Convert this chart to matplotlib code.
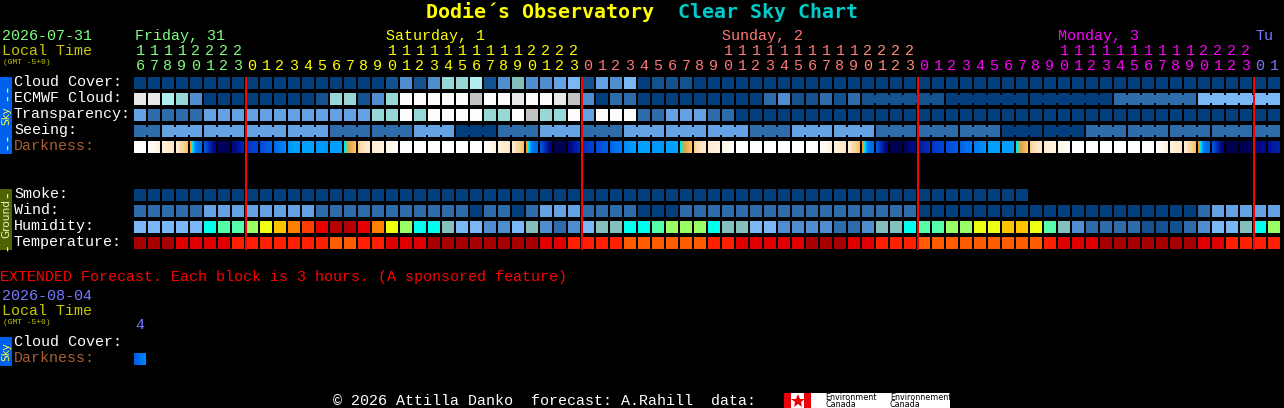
import numpy as np
import matplotlib
matplotlib.use("Agg")
import matplotlib.pyplot as plt
from matplotlib.colors import to_rgb

W, H = 1284, 408
MONO = "Liberation Mono"

# ---------- data ----------
site_title = "Dodie\u00b4s Observatory  "
chart_title = "Clear Sky Chart"
units_digits = list("67890123" + "012345678901234567890123" * 3 + "01")
tens_digits = list("11112222" + "          11111111112222" * 3 + "  ")
day_labels = ["Friday, 31", "Saturday, 1", "Sunday, 2", "Monday, 3", "Tu"]
row_labels_sky = ["Cloud Cover:", "ECMWF Cloud:", "Transparency:", "Seeing:", "Darkness:"]
row_labels_ground = ["Smoke:", "Wind:", "Humidity:", "Temperature:"]
midnight_cols = [8, 32, 56, 80]

cloud = [0,0,0,0,0,0,0,0,0,0,0,0,0,0,0,0,0,0,1,3,1,3,7,7,8,1,3,6,3,3,4,5,1,4,3,5,
         0,1,1,1,0,0,0,0,0,0,0,0,0,0,0,0,0,0,0,0,0,0,0,0,0,0,0,0,0,0,0,0,0,0,0,0,
         0,0,0,0,0,0,0,0,0,0]
ecmwf = [10,10,8,7,3,0,0,0,0,0,0,0,0,1,7,7,1,3,7,11,11,11,11,11,9,11,11,10,11,11,10,9,
         3,0,2,2,0,0,0,0,0,0,0,0,0,2,3,1,1,2,1,2,
         1,1,1,1,1,1,0,0,0,0,0,0,0,0,0,0,0,0,2,2,2,2,2,2,5,5,5,5,5,5]
transparency = [4,2,2,2,2,4,4,4,4,4,4,4,4,4,4,4,4,7,7,11,7,11,11,11,11,7,7,11,9,7,7,11,
                4,11,11,11,2,2,4,4,4,2,2,0,0,0,0,0,0,0,0,0,0,0,0,0,0,0,0,0,0,0,0,0,0,0,0,0,
                0,0,0,0,0,0,0,0,0,0,0,0,0,0]
seeing = [2,2,4,4,4,4,4,4,4,4,4,4,4,4,2,2,2,2,2,2,4,4,4,0,0,0,2,2,2,4,4,4,2,2,2,
          4,4,4,4,4,4,4,4,4,2,2,2,4,4,4,4,4,4,2,2,2,2,2,2,2,2,2,0,0,0,0,0,0,
          2,2,2,2,2,2,2,2,2,2,2,2,2,2]
smoke = [0] * 64
wind = [2,2,2,2,2,4,4,4,4,4,4,4,4,2,2,2,2,2,2,2,2,2,2,2,0,2,2,0,2,4,4,4,2,2,2,2,0,0,0,
        2,2,2,2,2,2,2,2,2,2,2,2,2,2,2,2,2,0,0,0,0,0,0,0,0,0,0,0,0,0,0,0,0,0,0,0,0,
        2,4,4,4,4,4]
humidity = [5,5,5,5,5,"c","m","m","g","y","a","o","r","R","D","D","R","o","y","g","c","c",
            6,5,5,3,3,5,6,3,2,3,5,6,6,"c","c","m","g","g","g","c",6,6,5,5,3,3,3,3,2,2,
            3,6,6,"c","m","m","g","g","y","y","a","a","y","m",6,3,2,2,2,2,1,1,1,2,3,5,5,6,"c","g"]
temperature = ["D","D","D","R","R","R","R","r","r","r","r","r","r","r","o","o","r","r","R","R","R",
               "D","D","D","D","D","D","D","D","R","R","r","r","r","r","o","o","o","o","o","o",
               "r","r","R","R","R","R","R","D","D","D","R","R","r","r","r","o","o","o","o","o","o",
               "o","o","o","r","R","R","R","D","D","D","D","D","D","D","R","R","r","r","r","r"]
darkness = [
    (0,0,0),(0,.5,1),(1,1.5,2),(1.5,2.5,3.3),(4,6.8,7.2),(7.6,8.5,9.3),(9.7,10,9.8),(9.3,8.9,8.4),
    (8.3,8,7.9),(7.8,7.5,7.3),(7.2,6.8,6.5),(6.3,6,6),(6,6,6),(6.2,6.1,6.2),(6,6,6),(5,3.9,3.2),
    (2.8,2,1.5),(1.5,1.2,1),(.8,.4,.2),(0,0,0),(0,0,0),(0,0,0),(0,0,0),(0,0,0),
    (0,0,0),(0,.5,1),(1,1.5,2),(1.5,2.5,3.3),(4,6.8,7.2),(7.6,8.5,9.5),(10,10,9.8),(9.3,8.8,8.4),
    (8.4,8.1,8),(7.8,7.6,7.4),(7.3,7,6.8),(6.5,6.2,6),(6,6,6),(6.2,6.1,6.2),(6,6,6),(5,3.9,3.2),
    (2.8,2,1.5),(1.5,1.2,1),(.8,.4,.2),(0,0,0),(0,0,0),(0,0,0),(0,0,0),(0,0,0),
    (0,0,0),(0,.5,1),(1,1.5,2),(1.5,2.5,3.3),(4,6.8,7.2),(7.6,8.5,9.5),(10,10,9.9),(9.8,9.4,9),
    (8.9,8.5,8.3),(8.2,8,7.9),(7.8,7.6,7.4),(7.3,7,6.9),(6.8,6.5,6.3),(6,6,6),(6,6,6),(5,3.9,3.2),
    (2.8,2,1.5),(1.5,1.2,1),(.8,.4,.2),(0,0,0),(0,0,0),(0,0,0),(0,0,0),(0,0,0),
    (0,0,0),(0,.5,1),(1,1.5,2),(1.5,2.5,3.3),(4,6.8,7.2),(7.6,8.5,9.5),(10,10,10),(10,10,9.7),
    (9.3,9.1,9),(8.9,8.7,8.6),
]
ext_label_date = "2026-08-04"
ext_hour = "4"
ext_darkness = [(7.4, 7, 6.5)]

# ---------- palettes ----------
blues = {0: "#023d7c", 1: "#13528f", 2: "#2d6cab", 3: "#4e8dce", 4: "#63a3e4", 5: "#79b7f6",
         6: "#82bfbd", 7: "#97d7d5", 8: "#aeeeee", 9: "#c2c2c2", 10: "#e8e8e8", 11: "#fdfdfd",
         "c": "#00ffee", "m": "#55ffaa", "g": "#99ff66", "y": "#eeff11", "a": "#ffc400",
         "o": "#ff8000", "r": "#ff3c00", "R": "#e60000", "D": "#b40000"}
temps = {"D": "#a80000", "R": "#e00000", "r": "#ff2000", "o": "#ff5c00"}
dark_pos = [0, 1, 2, 3, 4, 5, 6, 7, 8, 9, 10]
dark_col = ["#ffffff", "#fff3e0", "#fde5c0", "#fbcb80", "#f5a030", "#00e8e8",
            "#00a0ff", "#0070f0", "#0040d0", "#000c90", "#000050"]
dark_rgb = np.array([to_rgb(c) for c in dark_col])

GREEN, YEL, SAL, MAG, PER = "#80ff80", "#ffff00", "#ff7878", "#ff00ff", "#7878ff"
OLIVE_T, BROWN = "#c8c800", "#a86030"

# ---------- layout ----------
fig = plt.figure(figsize=(W / 100, H / 100), dpi=100, facecolor="black")
ax = fig.add_axes([0, 0, 1, 1], facecolor="black")
ax.set_xlim(0, W); ax.set_ylim(H, 0); ax.axis("off")

CELL_X, CELL_Y, PX, PY, CW = 134, 77, 14, 16, 12
NCOL, NROW = 82, 11
grid = fig.add_axes([CELL_X / W, 1 - (CELL_Y + PY * NROW) / H, PX * NCOL / W, PY * NROW / H])
grid.patch.set_alpha(0); grid.axis("off")
grid.set_xlim(0, NCOL); grid.set_ylim(NROW, 0)
cw, ch = CW / PX, CW / PY


def txt(x, y, s, color="white", px=15, **kw):
    kw.setdefault("family", MONO)
    return ax.text(x, y, s, color=color, fontsize=px * 0.72, va="baseline", ha=kw.pop("ha", "left"), **kw)


def blocks(values, row, pal, link=None):
    cols = np.arange(len(values))
    colors = [pal[v] for v in values]
    grid.bar(cols, ch, width=cw, bottom=row, align="edge", color=colors, linewidth=0, antialiased=False)
    if link is not None:
        for c in cols[:-1]:
            if link(c) and values[c] == values[c + 1]:
                grid.bar(c + cw, ch * 8 / 12, width=1 - cw, bottom=row + ch * 2 / 12, align="edge",
                         color=colors[c], linewidth=0, antialiased=False)


def gradient_blocks(values, row):
    for c, stops in enumerate(values):
        s = np.interp(np.linspace(0, 2, CW), [0, 1, 2], stops)
        rgb = np.stack([np.interp(s, dark_pos, dark_rgb[:, i]) for i in range(3)], axis=-1)
        grid.imshow(rgb[None], extent=(c, c + cw, row + ch, row), aspect="auto", interpolation="nearest", zorder=2)
    grid.set_xlim(0, NCOL); grid.set_ylim(NROW, 0)


blocks(cloud, 0, blues)
blocks(ecmwf, 1, blues, link=lambda c: c >= 52 and (c - 52) % 6 != 5)
blocks(transparency, 2, blues)
blocks(seeing, 3, blues, link=lambda c: (c - 2) % 3 != 2 and c >= 0)
gradient_blocks(darkness, 4)
blocks(smoke, 7, blues)
blocks(wind, 8, blues)
blocks(humidity, 9, blues)
blocks(temperature, 10, temps)
grid.bar(midnight_cols, 10.81, width=2 / PX, bottom=0, align="center", color="#ff0000", linewidth=0,
         antialiased=False, zorder=5)

# ---------- header ----------
txt(426, 18, site_title, YEL, 20, fontweight="bold", family="DejaVu Sans Mono")
txt(678, 18, chart_title, "#00cccc", 20, fontweight="bold", family="DejaVu Sans Mono")
txt(2, 40, "2026-07-31", GREEN)
txt(2, 55, "Local Time", OLIVE_T)
txt(3, 64, "(GMT -5+0)", OLIVE_T, 7.9)
for lab, x, col in zip(day_labels, [135, 386, 722, 1058, 1255], [GREEN, YEL, SAL, MAG, PER]):
    txt(x, 40, lab, col)
for c in range(NCOL):
    if c < 8:
        col = GREEN
    elif c < 32:
        col = YEL
    elif c < 52:
        col = SAL
    elif c < 56:
        col = "#ff8c70"
    elif c < 80:
        col = MAG
    else:
        col = PER
    x = CELL_X + PX * c + 6
    txt(x, 55, tens_digits[c], col, ha="center")
    txt(x, 70, units_digits[c], col, ha="center")

# ---------- row labels ----------
for i, lab in enumerate(row_labels_sky):
    txt(14, 86 + 16 * i, lab, BROWN if lab.startswith("Dark") else "white")
for i, lab in enumerate(row_labels_ground):
    txt(14, 198 + 16 * i, lab)

# ---------- side bars ----------
BAR_FONT = dict(rotation=90, ha="center", va="center", family="DejaVu Sans", fontsize=10.5 * 0.72)
DASH_FONT = dict(rotation=90, ha="center", va="center", family="DejaVu Sans Mono", fontsize=16 * 0.72)
ax.bar([0], [77], width=12, bottom=77, align="edge", color="#0060f0", linewidth=0, antialiased=False)
ax.bar([0], [61], width=12, bottom=189, align="edge", color="#4e6400", linewidth=0, antialiased=False)
ax.bar([0], [29], width=12, bottom=337, align="edge", color="#0060f0", linewidth=0, antialiased=False)
ax.text(6, 115.5, "Sky", color="#ffff30", **BAR_FONT)
ax.text(6, 91, "--", color="#ffff30", **DASH_FONT)
ax.text(6, 140, "--", color="#ffff30", **DASH_FONT)
ax.text(6, 219, "Ground", color="#f0f0c0", **BAR_FONT)
ax.text(6, 193, "-", color="#f0f0c0", **DASH_FONT)
ax.text(6, 246, "-", color="#f0f0c0", **DASH_FONT)
ax.text(6, 351.5, "Sky", color="#ffff30", **BAR_FONT)

# ---------- extended ----------
txt(0, 281, "EXTENDED Forecast. Each block is 3 hours. (A sponsored feature)", "#ff0000")
txt(2, 300, ext_label_date, PER)
txt(2, 315, "Local Time", OLIVE_T)
txt(3, 324, "(GMT -5+0)", OLIVE_T, 7.9)
txt(140, 329, ext_hour, PER, ha="center")
txt(14, 346, "Cloud Cover:")
txt(14, 362, "Darkness:", BROWN)
for stops in ext_darkness:
    s = np.interp(np.linspace(0, 2, CW), [0, 1, 2], stops)
    rgb = np.stack([np.interp(s, dark_pos, dark_rgb[:, i]) for i in range(3)], axis=-1)
    ax.imshow(rgb[None], extent=(134, 146, 365, 353), aspect="auto", interpolation="nearest")
ax.set_xlim(0, W); ax.set_ylim(H, 0)

# ---------- footer ----------
txt(333, 405, "\u00a9 2026 Attilla Danko  forecast: A.Rahill  data:")
ax.bar([784], [15], width=166, bottom=393, align="edge", color="white", linewidth=0, antialiased=False)
ax.bar([784, 804], [15, 15], width=7, bottom=393, align="edge", color="#e8000a", linewidth=0, antialiased=False)
ax.plot([797.5], [400.5], marker="*", ms=10, color="#e8000a", mew=0)
for x, l1, l2 in [(825, "Environment", "Canada"), (890, "Environnement", "Canada")]:
    ax.text(x, 399.7, l1, color="black", fontsize=8 * 0.72, family="DejaVu Sans", va="baseline")
    ax.text(x, 407, l2, color="black", fontsize=8 * 0.72, family="DejaVu Sans", va="baseline")

fig.savefig("out.png", dpi=100, facecolor="black")
